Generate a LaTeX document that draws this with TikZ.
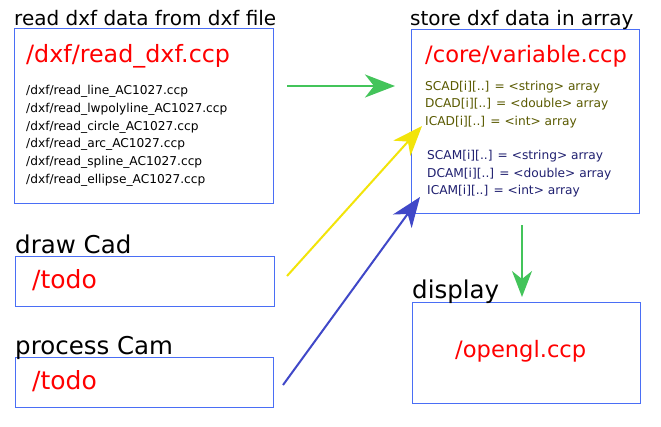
\documentclass[tikz,border=0pt]{standalone}
\usepackage{fontspec}
\setmainfont{DejaVu Sans}
\usetikzlibrary{arrows.meta}
\definecolor{boxblue}{RGB}{74,110,245}
\definecolor{arrgreen}{RGB}{67,196,90}
\definecolor{arryellow}{RGB}{242,228,10}
\definecolor{arrblue}{RGB}{64,72,200}
\definecolor{olivetxt}{RGB}{90,90,0}
\definecolor{navytxt}{RGB}{32,32,112}
\tikzset{
  box/.style={draw=boxblue, line width=1.1pt, anchor=north west, inner sep=0pt},
  lbl/.style={anchor=base west, inner sep=0pt},
  ttl/.style={lbl, font=\fontsize{20}{24}\selectfont},
  bigttl/.style={lbl, font=\fontsize{24.5}{29}\selectfont},
  redtxt/.style={lbl, text=red},
  small/.style={lbl, font=\fontsize{12.2}{15}\selectfont},
  flow/.style={line width=2pt, -{Stealth[length=30pt, width=23pt, inset=9pt]}}
}
\begin{document}
\begin{tikzpicture}[x=1pt, y=-1pt]
\useasboundingbox[fill=white] (0,0) rectangle (661,426);
% boxes
\node[box, minimum width=259pt, minimum height=175pt] (b1) at (14,28) {};
\node[box, minimum width=228pt, minimum height=184pt] (b2) at (411,29) {};
\node[box, minimum width=259pt, minimum height=50pt] (b3) at (15,256) {};
\node[box, minimum width=258pt, minimum height=50pt] (b4) at (15,357) {};
\node[box, minimum width=228pt, minimum height=101pt] (b5) at (412,302) {};
% titles
\node[ttl] (t1) at (14,25) {read dxf data from dxf file};
\node[ttl] (t2) at (410,25) {store dxf data in array};
\node[bigttl] (t3) at (15,253) {draw Cad};
\node[bigttl] (t4) at (15,354) {process Cam};
\node[bigttl] (t5) at (412,298) {display};
% red file names
\node[redtxt, font=\fontsize{23.8}{28}\selectfont] (r1) at (26,62) {/dxf/read\_dxf.ccp};
\node[redtxt, font=\fontsize{22.6}{27}\selectfont] (r2) at (425,62) {/core/variable.ccp};
\node[redtxt, font=\fontsize{25}{30}\selectfont] (r3) at (32,288) {/todo};
\node[redtxt, font=\fontsize{25}{30}\selectfont] (r4) at (32,389) {/todo};
\node[redtxt, font=\fontsize{22.6}{27}\selectfont] (r5) at (455,357) {/opengl.ccp};
% box 1 list
\node[small] (l1) at (26,94.5) {/dxf/read\_line\_AC1027.ccp};
\node[small] (l2) at (26,112.3) {/dxf/read\_lwpolyline\_AC1027.ccp};
\node[small] (l3) at (26,130.1) {/dxf/read\_circle\_AC1027.ccp};
\node[small] (l4) at (26,147.9) {/dxf/read\_arc\_AC1027.ccp};
\node[small] (l5) at (26,165.7) {/dxf/read\_spline\_AC1027.ccp};
\node[small] (l6) at (26,183.5) {/dxf/read\_ellipse\_AC1027.ccp};
% box 2 lists
\node[small, text=olivetxt] (c1) at (425,90) {SCAD[i][..] = <string> array};
\node[small, text=olivetxt] (c2) at (425,107.6) {DCAD[i][..] = <double> array};
\node[small, text=olivetxt] (c3) at (425,125.2) {ICAD[i][..] = <int> array};
\node[small, text=navytxt] (m1) at (427,159.5) {SCAM[i][..] = <string> array};
\node[small, text=navytxt] (m2) at (427,177.2) {DCAM[i][..] = <double> array};
\node[small, text=navytxt] (m3) at (427,194.9) {ICAM[i][..] = <int> array};
% connector ends
\coordinate (g1s) at (287,86);
\coordinate (g1e) at (395,86);
\coordinate (ys) at (287,276);
\coordinate (ye) at (422,126);
\coordinate (bs) at (283,385);
\coordinate (be) at (420,197);
\coordinate (g2s) at (522,225);
\coordinate (g2e) at (522,297);
% connectors
\draw[flow, arrgreen] (g1s) -- (g1e);
\draw[flow, arryellow] (ys) -- (ye);
\draw[flow, arrblue] (bs) -- (be);
\draw[flow, arrgreen, line width=1.6pt, -{Stealth[length=26pt, width=20pt, inset=8pt]}] (g2s) -- (g2e);
\end{tikzpicture}
\end{document}
